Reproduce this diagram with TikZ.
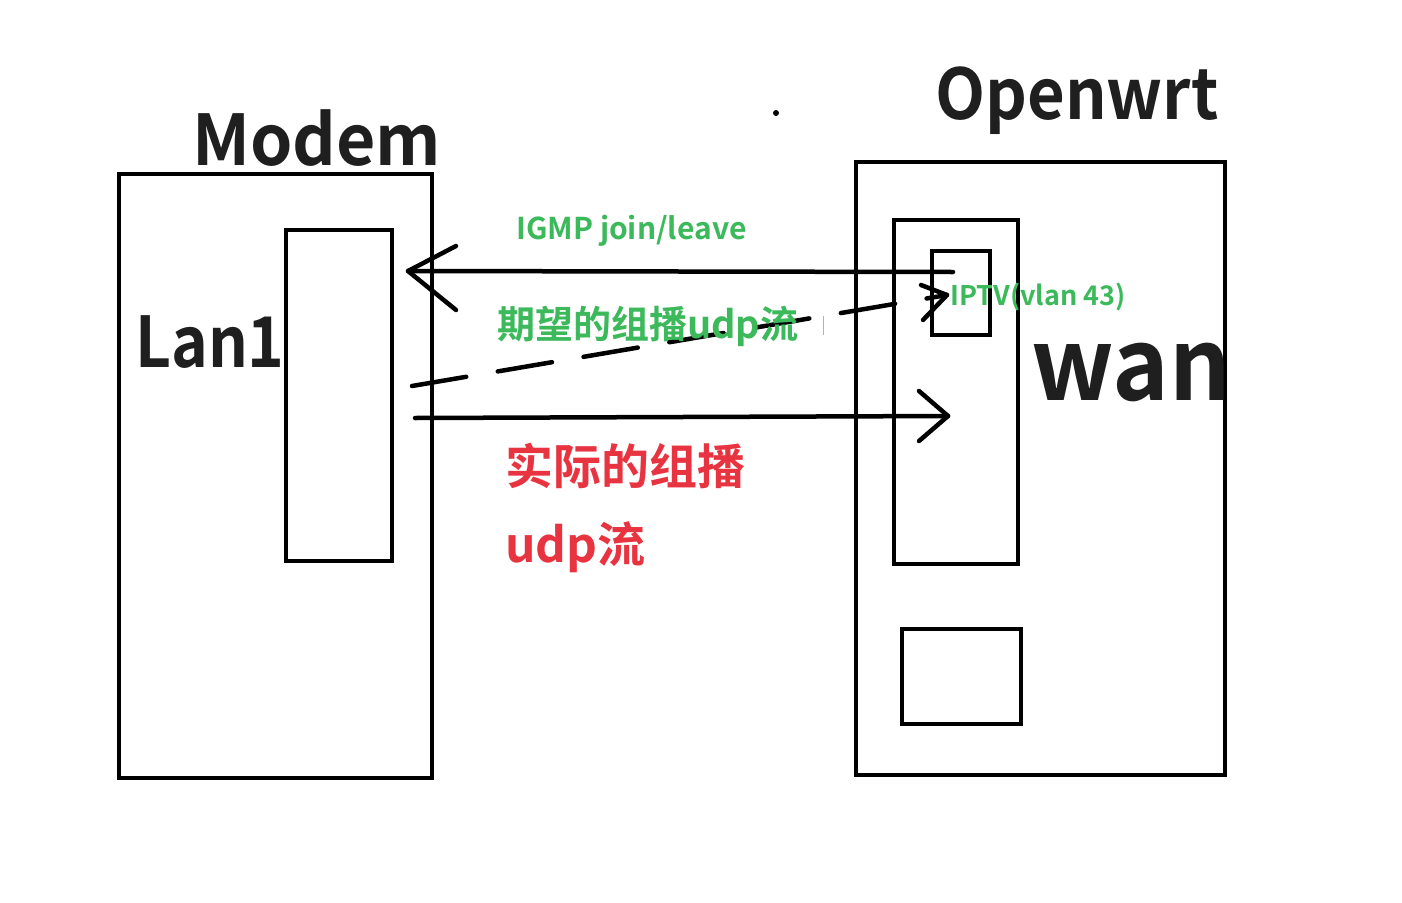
\documentclass[tikz,border=0pt]{standalone}
\usepackage{fontspec}
\setmainfont{Noto Sans CJK SC}[BoldFont={* Bold}]
\definecolor{tgreen}{RGB}{60,185,90}
\definecolor{tred}{RGB}{232,52,64}
\begin{document}
\begin{tikzpicture}[x=1pt,y=-1pt,
  box/.style={draw=black,line width=4.5pt,inner sep=0pt},
  conn/.style={draw=black,line width=4.5pt,line cap=round,line join=round},
  lbl/.style={inner sep=0pt,anchor=base west,font=\bfseries},
  big/.style={lbl,text=black!88,font=\fontsize{70}{70}\selectfont\bfseries},
]
\useasboundingbox[fill=white] (0,0) rectangle (1402,902);
% boxes
\draw[box] (119,174) rectangle (432,778);
\draw[box] (286,230) rectangle (392,561);
\draw[box] (856,162) rectangle (1225,775);
\draw[box] (894,220) rectangle (1018,564);
\draw[box] (932,251) rectangle (990,335);
\draw[box] (902,629) rectangle (1021,724);
% coordinates
\coordinate (igmpS) at (953,272);
\coordinate (igmpE) at (408,271);
\coordinate (igA) at (456,246);
\coordinate (igB) at (456,310);
\coordinate (daS) at (412,386);
\coordinate (daE) at (947,295);
\coordinate (daA) at (921,285);
\coordinate (daB) at (923,320);
\coordinate (soS) at (415,418);
\coordinate (soE) at (948,416);
\coordinate (soA) at (919,391);
\coordinate (soB) at (919,441);
% arrows
\draw[conn] (igmpS) -- (igmpE);
\draw[conn] (igA) -- (igmpE) -- (igB);
\draw[conn,dash pattern=on 55pt off 32pt] (daS) -- (daE);
\draw[conn] (daA) -- (daE) -- (daB);
\draw[conn] (soS) -- (soE);
\draw[conn] (soA) -- (soE) -- (soB);
% texts
\node[big,xscale=0.97] (modem) at (192,165) {Modem};
\node[big,xscale=0.93] (openwrt) at (935,119) {Openwrt};
\node[big,xscale=0.89] (lan1) at (135,367) {Lan1};
\node[lbl,xscale=0.96,text=black!88,font=\fontsize{100}{100}\selectfont\bfseries] (wan) at (1031,400) {wan};
\node[lbl,text=tgreen,font=\fontsize{30}{30}\selectfont\bfseries] (igmp) at (516,239) {IGMP join/leave};
\node[lbl,text=tgreen,font=\fontsize{27}{27}\selectfont\bfseries] (iptv) at (950,305) {IPTV(vlan 43)};
\node[lbl,text=tgreen,font=\fontsize{38}{38}\selectfont\bfseries] (exp) at (497,338) {期望的组播udp流};
\node[lbl,text=tred,font=\fontsize{48}{48}\selectfont\bfseries] (act1) at (505,484) {实际的组播};
\node[lbl,text=tred,font=\fontsize{48}{48}\selectfont\bfseries] (act2) at (505,562) {udp流};
% small marks
\fill (776,113) circle (3pt);
\draw[gray!60,line width=1pt] (823,316) -- (823,335);
\end{tikzpicture}
\end{document}
